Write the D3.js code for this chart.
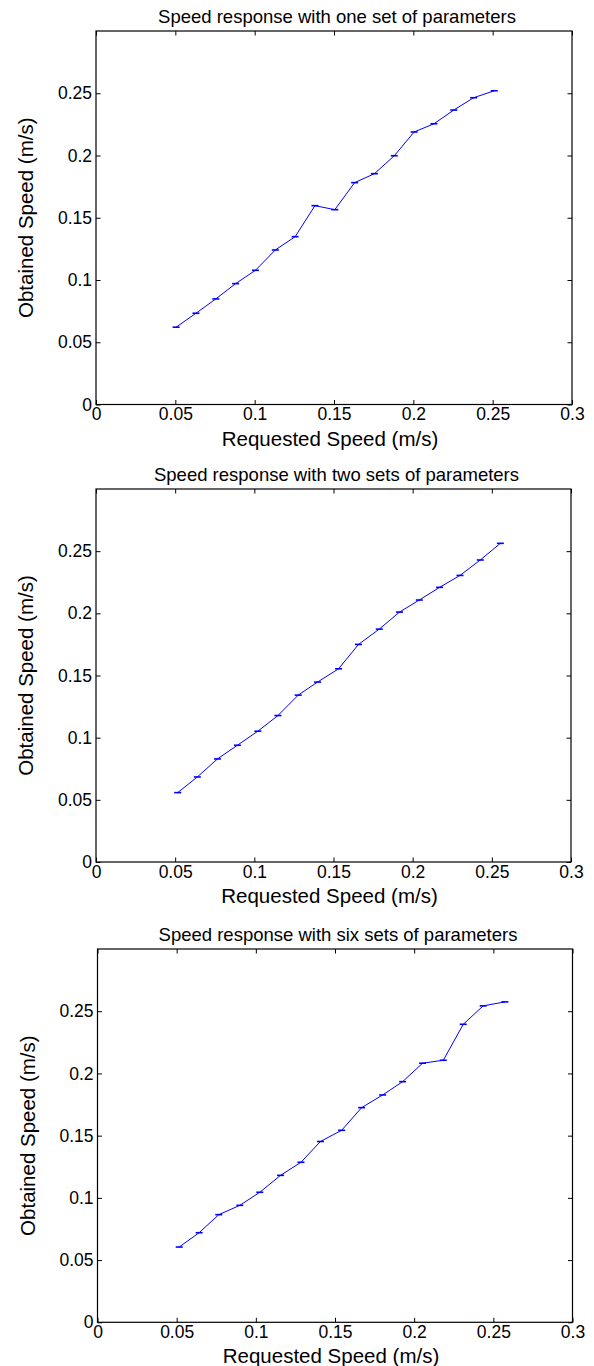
<!DOCTYPE html>
<html>
<head>
<meta charset="utf-8">
<script src="https://cdn.jsdelivr.net/npm/d3@7"></script>
<style>
  body { margin: 0; background: #fff; }
  text { font-family: "Liberation Sans", Arial, Helvetica, sans-serif; fill: #000; }
</style>
</head>
<body>
<div id="chart"></div>
<script>
var titles = ["Speed response with one set of parameters",
              "Speed response with two sets of parameters",
              "Speed response with six sets of parameters"];

var one_x = [0.0505, 0.0630, 0.0755, 0.0880, 0.1005, 0.1130, 0.1255, 0.1380, 0.1505, 0.1630, 0.1755, 0.1880, 0.2005, 0.2130, 0.2255, 0.2380, 0.2510];
var one_y = [0.0621, 0.0733, 0.0848, 0.0971, 0.1078, 0.1241, 0.1348, 0.1597, 0.1565, 0.1782, 0.1854, 0.1998, 0.2189, 0.2255, 0.2365, 0.2464, 0.2520];

var two_x = [0.0516, 0.0640, 0.0767, 0.0893, 0.1022, 0.1149, 0.1277, 0.1399, 0.1532, 0.1658, 0.1789, 0.1917, 0.2042, 0.2170, 0.2299, 0.2427, 0.2554];
var two_y = [0.0558, 0.0684, 0.0829, 0.0939, 0.1052, 0.1178, 0.1342, 0.1447, 0.1554, 0.1750, 0.1873, 0.2010, 0.2107, 0.2209, 0.2305, 0.2429, 0.2563];

var six_x = [0.0516, 0.0642, 0.0766, 0.0899, 0.1025, 0.1156, 0.1285, 0.1408, 0.1542, 0.1668, 0.1801, 0.1927, 0.2053, 0.2184, 0.2310, 0.2436, 0.2573];
var six_y = [0.0605, 0.0720, 0.0865, 0.0940, 0.1045, 0.1181, 0.1286, 0.1453, 0.1543, 0.1725, 0.1827, 0.1934, 0.2082, 0.2106, 0.2395, 0.2543, 0.2575];

var x_ticks = [0, 0.05, 0.1, 0.15, 0.2, 0.25, 0.3];
var y_ticks = [0, 0.05, 0.1, 0.15, 0.2, 0.25];
var x_label = "Requested Speed (m/s)";
var y_label = "Obtained Speed (m/s)";

var width = 594, height = 1366;
var svg = d3.select("#chart").append("svg").attr("width", width).attr("height", height);

// one box per panel: left, right, top, bottom (px)
var boxes = [[96, 572, 31, 404.5], [96, 571, 489, 862], [97.5, 572.5, 949, 1322.3]];
var series = [[one_x, one_y], [two_x, two_y], [six_x, six_y]];

function drawPanel(i){
    var b = boxes[i];
    var xs = series[i][0], ys = series[i][1];
    var data = xs.map((d, j) => ({x: d, y: ys[j]}));

    var x = d3.scaleLinear().domain([0, 0.3]).range([b[0], b[1]]);
    var y = d3.scaleLinear().domain([0, 0.3]).range([b[3], b[2]]);
    var g = svg.append("g");
    var fmt = (d) => String(d);

    // inward ticks on all four sides, matlab style
    g.append("g").attr("transform", "translate(0," + b[3] + ")")
        .call(d3.axisBottom(x).tickValues(x_ticks).tickSize(-4.5).tickPadding(3.5).tickFormat(fmt))
        .call(a => a.select(".domain").remove())
        .call(a => a.selectAll("text").attr("font-size", 17.5).attr("dy", "0.71em"));
    g.append("g").attr("transform", "translate(0," + b[2] + ")")
        .call(d3.axisTop(x).tickValues(x_ticks).tickSize(-4.5).tickFormat(""))
        .call(a => a.select(".domain").remove());
    g.append("g").attr("transform", "translate(" + b[0] + ",0)")
        .call(d3.axisLeft(y).tickValues(y_ticks).tickSize(-4.5).tickPadding(4).tickFormat(fmt))
        .call(a => a.select(".domain").remove())
        .call(a => a.selectAll("text").attr("font-size", 17.5));
    g.append("g").attr("transform", "translate(" + b[1] + ",0)")
        .call(d3.axisRight(y).tickValues(y_ticks).tickSize(-4.5).tickFormat(""))
        .call(a => a.select(".domain").remove());
    g.selectAll(".tick line").attr("stroke", "#000");

    g.append("rect")
        .attr("x", b[0]).attr("y", b[2])
        .attr("width", b[1] - b[0]).attr("height", b[3] - b[2])
        .attr("fill", "none").attr("stroke", "#000").attr("stroke-width", 1.2);

    var line = d3.line().x(d => x(d.x)).y(d => y(d.y));
    g.append("path").datum(data)
        .attr("d", line)
        .attr("fill", "none")
        .attr("stroke", "#0000ff")
        .attr("stroke-width", 1);

    // tiny error bar caps
    g.selectAll("line.cap")
        .data(data)
        .enter()
        .append("line")
        .attr("class", "cap")
        .attr("x1", d => x(d.x) - 3.5).attr("x2", d => x(d.x) + 3.5)
        .attr("y1", d => y(d.y)).attr("y2", d => y(d.y))
        .attr("stroke", "#0000ff")
        .attr("stroke-width", 1.6);

    var cx = (b[0] + b[1]) / 2, cy = (b[2] + b[3]) / 2;
    g.append("text")
        .attr("x", cx + 3).attr("y", b[2] - 8)
        .attr("text-anchor", "middle")
        .attr("font-size", 18.5)
        .text(titles[i]);
    g.append("text")
        .attr("x", cx - 4).attr("y", b[3] + 41)
        .attr("text-anchor", "middle")
        .attr("font-size", 20.5)
        .text(x_label);
    g.append("text")
        .attr("transform", "translate(" + (b[0] - 63) + "," + cy + ") rotate(-90)")
        .attr("text-anchor", "middle")
        .attr("font-size", 20.5)
        .text(y_label);
}

titles.forEach((t, i) => drawPanel(i));
</script>
</body>
</html>
